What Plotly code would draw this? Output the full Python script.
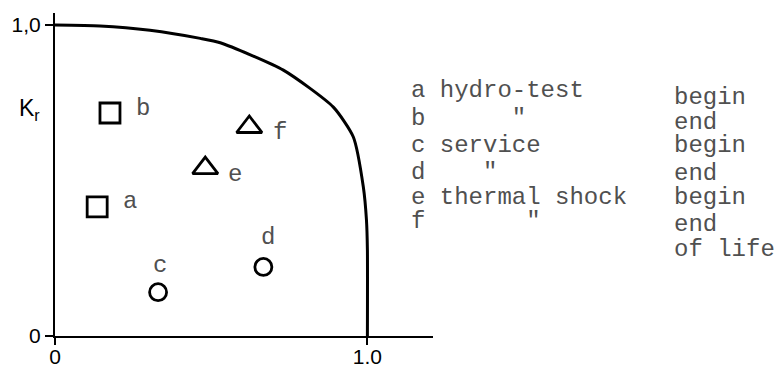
import plotly.graph_objects as go

curve_sr = [0.0, 0.144, 0.304, 0.465, 0.529, 0.731, 0.891, 0.955, 0.987, 0.997, 1.0, 1.0]
curve_kr = [1.0, 0.997, 0.983, 0.957, 0.943, 0.855, 0.736, 0.640, 0.479, 0.373, 0.277, 0.0]

# Assessment points
point_ids = ["a", "b", "c", "d", "e", "f"]
point_sr = [0.135, 0.176, 0.330, 0.667, 0.481, 0.622]
point_kr = [0.415, 0.717, 0.141, 0.222, 0.540, 0.672]
point_symbols = ["square-open", "square-open", "circle-open", "circle-open",
                 "triangle-up-open", "triangle-up-open"]
point_sizes = [20, 20, 17, 17, 22, 22]
# label offsets in data units (dx, dy)
label_dx = [0.105, 0.106, 0.007, 0.016, 0.096, 0.099]
label_dy = [0.016, 0.016, 0.087, 0.096, -0.022, -0.019]

# Key text
key_left = ["a hydro-test", "b      \"", "c service", "d    \"", "e thermal shock", "f       \""]
key_right = ["begin", "end", "begin", "end", "begin", "end", "of life"]
key_left_y = [0.788, 0.698, 0.611, 0.527, 0.444, 0.367]
key_right_y = [0.768, 0.688, 0.611, 0.524, 0.444, 0.357, 0.279]

x_ticks = [0, 1]
x_ticktext = ["0", "1.0"]
y_ticks = [0, 1]
y_ticktext = ["0", "1,0"]

mono = "Courier New, Liberation Mono, monospace"
sans = "Liberation Sans, Arial, sans-serif"
grey = "#505050"

fig = go.Figure()

fig.add_trace(go.Scatter(
    x=curve_sr, y=curve_kr, mode="lines",
    line=dict(color="black", width=3, shape="spline", smoothing=0.6),
    hoverinfo="skip", showlegend=False,
))

fig.add_trace(go.Scatter(
    x=point_sr, y=point_kr, mode="markers",
    marker=dict(symbol=point_symbols, size=point_sizes, color="black", opacity=1,
                line=dict(color="black", width=2.8)),
    showlegend=False,
))

for pid, sx, ky, dx, dy in zip(point_ids, point_sr, point_kr, label_dx, label_dy):
    fig.add_annotation(x=sx + dx, y=ky + dy, text=pid, showarrow=False,
                       font=dict(family=mono, size=24, color=grey))

# key block to the right of the chart (x in paper units)
for txt, ky in zip(key_left, key_left_y):
    fig.add_annotation(x=0.937, xref="paper", y=ky, text=txt.replace(" ", "&nbsp;"),
                       xanchor="left", showarrow=False,
                       font=dict(family=mono, size=24, color=grey))
for txt, ky in zip(key_right, key_right_y):
    fig.add_annotation(x=1.632, xref="paper", y=ky, text=txt.replace(" ", "&nbsp;"),
                       xanchor="left", showarrow=False,
                       font=dict(family=mono, size=24, color=grey))

# axis titles
fig.add_annotation(x=-0.1005, xref="paper", xanchor="left", y=0.727,
                   text="K<sub>r</sub>", showarrow=False,
                   font=dict(family=sans, size=23, color="black"))
fig.add_annotation(x=0.506, y=-0.061, text="S<sub>r</sub>", showarrow=False,
                   yanchor="middle", font=dict(family=sans, size=22, color="black"))

fig.update_xaxes(
    range=[0, 1.21], showgrid=False, zeroline=False, automargin=False,
    showline=True, linecolor="black", linewidth=2,
    tickvals=x_ticks, ticktext=x_ticktext, ticks="outside", ticklen=7,
    tickwidth=2, tickcolor="black", ticklabelstandoff=-6,
    tickfont=dict(family=sans, size=21, color="black"),
)
fig.update_yaxes(
    range=[0, 1.0386], showgrid=False, zeroline=False, automargin=False,
    showline=True, linecolor="black", linewidth=2,
    tickvals=y_ticks, ticktext=y_ticktext, ticks="outside", ticklen=8,
    tickwidth=2, tickcolor="black",
    tickfont=dict(family=sans, size=21, color="black"),
)

fig.update_layout(
    width=781, height=365,
    margin=dict(l=55, r=348, t=13, b=29),
    plot_bgcolor="white", paper_bgcolor="white",
)

fig.write_html("out.html")
